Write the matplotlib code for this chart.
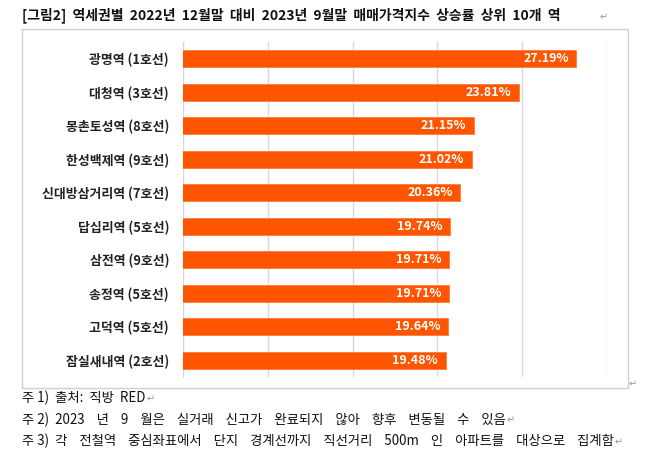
import matplotlib.pyplot as plt
from matplotlib.patches import Rectangle

plt.rcParams['font.family'] = ['Noto Sans CJK KR', 'DejaVu Sans']

# 역세권별 매매가격지수 상승률 상위 10개 역
stations = ["광명역 (1호선)", "대청역 (3호선)", "몽촌토성역 (8호선)", "한성백제역 (9호선)",
            "신대방삼거리역 (7호선)", "답십리역 (5호선)", "삼전역 (9호선)", "송정역 (5호선)",
            "고덕역 (5호선)", "잠실새내역 (2호선)"]
rates = [27.19, 23.81, 21.15, 21.02, 20.36, 19.74, 19.71, 19.71, 19.64, 19.48]
title = "[그림2] 역세권별 2022년 12월말 대비 2023년 9월말 매매가격지수 상승률 상위 10개 역"
note_heads = ["주 1)", "주 2)", "주 3)"]
note_bodies = ["출처: 직방 RED",
               "2023 년 9 월은 실거래 신고가 완료되지 않아 향후 변동될 수 있음",
               "각 전철역 중심좌표에서 단지 경계선까지 직선거리 500m 인 아파트를 대상으로 집계함"]

W, H = 658, 458
fig = plt.figure(figsize=(W / 100, H / 100), dpi=100)

# outer chart frame
fig.patches.append(Rectangle((22 / W, 1 - 388 / H), 606 / W, 359 / H,
                             transform=fig.transFigure, fill=False,
                             edgecolor="#d0d0d0", linewidth=1))

ax = fig.add_axes([183 / W, 1 - 377 / H, 424 / W, 335 / H])
ypos = list(range(len(stations)))
ax.barh(ypos, rates, height=0.5, color="#ff5500", edgecolor="#ff7a3d",
        linewidth=0.6, left=0, zorder=3)
ax.set_xlim(4, 29)
ax.set_ylim(len(stations) - 0.5, -0.5)
ax.set_xticks([4, 9, 14, 19, 24, 29])
ax.xaxis.grid(True, color="#d9d9d9", linewidth=1)
ax.tick_params(axis="x", length=0, labelbottom=False)
ax.tick_params(axis="y", length=0, pad=10)
ax.set_yticks(ypos)
ax.set_yticklabels(stations, fontsize=9.3, fontweight="bold", color="#222222")
for s in ["top", "right", "bottom"]:
    ax.spines[s].set_visible(False)
ax.spines["left"].set_color("#d9d9d9")

for y, v in zip(ypos, rates):
    ax.text(v - 0.45, y, f"{v:.2f}%", ha="right", va="center", color="white",
            fontsize=9, fontweight="bold", zorder=4)

# word-spaced text like the justified Word paragraph
fig.text(22 / W, 1 - 15 / H, title.replace(" ", "  "), fontsize=10, fontweight="bold",
         va="center", ha="left", color="#111111")
fig.text(600 / W, 1 - 17 / H, "↵", fontsize=7, color="#999999", va="center")
fig.text(629 / W, 1 - 384 / H, "↵", fontsize=7, color="#999999", va="center")

renderer = fig.canvas.get_renderer()
for i, (head, body) in enumerate(zip(note_heads, note_bodies)):
    y = 1 - (398 + 21.5 * i) / H
    gap = "  " if i == 0 else "    "
    t = fig.text(22 / W, y, head + "  " + body.replace(" ", gap),
                 fontsize=9.6, va="center", ha="left", color="#111111")
    x1 = t.get_window_extent(renderer).x1
    fig.text((x1 + 1) / W, y - 1 / H, "↵", fontsize=7, color="#999999", va="center")

fig.savefig("out.png", dpi=100, facecolor="white")
